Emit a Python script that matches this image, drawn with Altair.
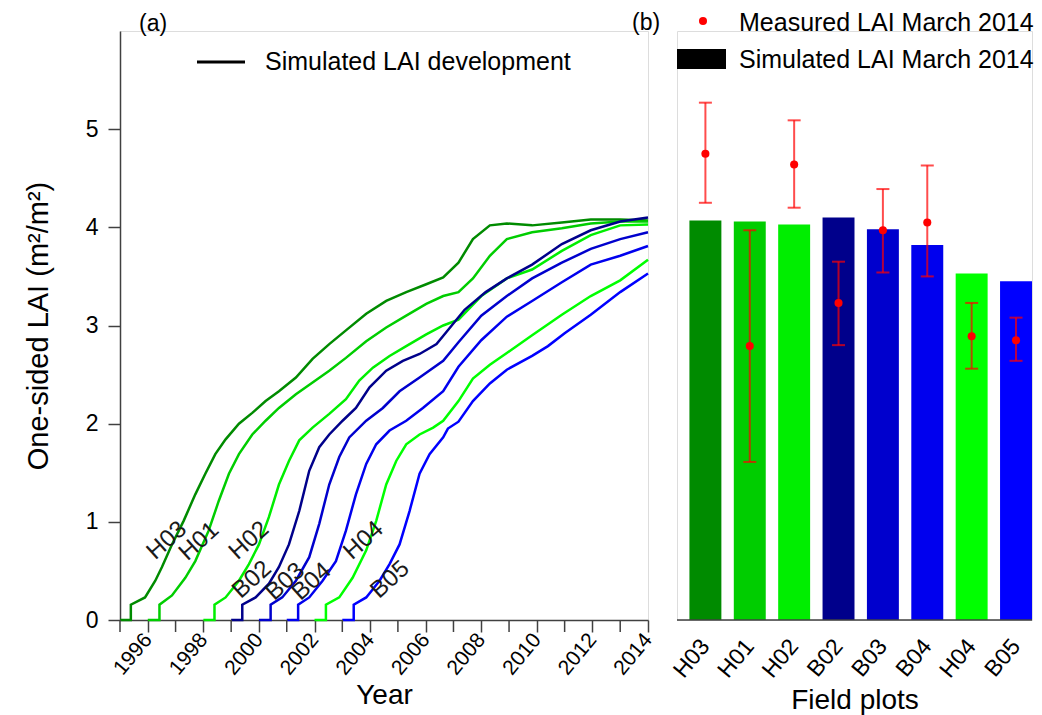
import altair as alt
import pandas as pd

FONT = "Liberation Sans"

plots = ["H03", "H01", "H02", "B02", "B03", "B04", "H04", "B05"]
colors = ["#008B00", "#00CD00", "#00EE00", "#00008B", "#0000CD", "#0000EE", "#00FF00", "#0000FF"]

# ---- panel (a): simulated LAI development ----
H03_year = [1995.0, 1995.39, 1995.39, 1995.9, 1996.27, 1996.51, 1996.87, 1997.29, 1997.71, 1998.07, 1998.43, 1998.8,
            1999.28, 1999.76, 2000.24, 2000.72, 2001.33, 2001.93, 2002.53, 2003.13, 2003.86, 2004.58, 2005.3,
            2006.02, 2006.63, 2007.18, 2007.7, 2008.31, 2008.92, 2009.83, 2010.9, 2011.94, 2013.0, 2014.0]
H03_lai = [0, 0, 0.156, 0.23, 0.40, 0.54, 0.77, 1.01, 1.28, 1.49, 1.69, 1.84,
           2.0, 2.11, 2.23, 2.33, 2.47, 2.66, 2.81, 2.95, 3.12, 3.25, 3.34,
           3.42, 3.49, 3.64, 3.88, 4.02, 4.04, 4.02, 4.05, 4.08, 4.08, 4.07]

H01_year = [1996.0, 1996.42, 1996.42, 1996.87, 1997.35, 1997.71, 1998.19, 1998.55, 1998.92, 1999.28, 1999.76,
            2000.24, 2000.72, 2001.33, 2001.93, 2002.53, 2003.13, 2003.86, 2004.58, 2005.3, 2006.02, 2006.63,
            2007.18, 2007.7, 2008.31, 2008.92, 2009.83, 2010.9, 2011.94, 2013.0, 2014.0]
H01_lai = [0, 0, 0.156, 0.25, 0.43, 0.60, 0.91, 1.21, 1.49, 1.69, 1.89,
           2.03, 2.16, 2.30, 2.42, 2.54, 2.67, 2.84, 2.98, 3.10, 3.22, 3.30,
           3.34, 3.48, 3.71, 3.88, 3.95, 3.99, 4.04, 4.06, 4.06]

H02_year = [1998.0, 1998.4, 1998.4, 1998.8, 1999.28, 1999.64, 2000.0, 2000.36, 2000.72, 2001.08, 2001.45,
            2001.93, 2002.53, 2003.13, 2003.61, 2004.1, 2004.7, 2005.3, 2006.02, 2006.63, 2007.18, 2008.0,
            2008.92, 2009.83, 2010.9, 2011.94, 2013.0, 2014.0]
H02_lai = [0, 0, 0.156, 0.23, 0.40, 0.57, 0.77, 1.05, 1.38, 1.62, 1.83,
           1.96, 2.10, 2.25, 2.44, 2.57, 2.69, 2.79, 2.91, 3.0, 3.06, 3.30,
           3.48, 3.57, 3.76, 3.92, 4.02, 4.03]

B02_year = [1999.0, 1999.4, 1999.4, 1999.88, 2000.36, 2000.72, 2001.08, 2001.45, 2001.81, 2002.17, 2002.53,
            2003.01, 2003.49, 2003.98, 2004.58, 2005.18, 2005.78, 2006.39, 2006.65, 2007.4, 2008.16, 2008.92,
            2009.83, 2010.9, 2011.94, 2013.0, 2014.0]
B02_lai = [0, 0, 0.156, 0.23, 0.37, 0.54, 0.77, 1.11, 1.52, 1.76, 1.89,
           2.03, 2.16, 2.37, 2.54, 2.64, 2.71, 2.81, 2.90, 3.16, 3.34, 3.48,
           3.62, 3.83, 3.97, 4.06, 4.10]

B03_year = [2000.0, 2000.42, 2000.42, 2000.84, 2001.33, 2001.81, 2002.17, 2002.53, 2002.89, 2003.25, 2003.86,
            2004.46, 2005.06, 2005.78, 2006.63, 2007.18, 2008.0, 2008.92, 2009.83, 2010.9, 2011.94, 2013.0, 2014.0]
B03_lai = [0, 0, 0.156, 0.23, 0.40, 0.64, 0.98, 1.38, 1.66, 1.86, 2.03,
           2.16, 2.33, 2.47, 2.64, 2.83, 3.10, 3.30, 3.48, 3.64, 3.78, 3.88, 3.95]

B04_year = [2001.0, 2001.41, 2001.41, 2001.81, 2002.29, 2002.77, 2003.13, 2003.49, 2003.86, 2004.22, 2004.7,
            2005.3, 2005.9, 2006.63, 2007.18, 2008.0, 2008.92, 2009.83, 2010.9, 2011.94, 2013.0, 2014.0]
B04_lai = [0, 0, 0.156, 0.23, 0.40, 0.60, 0.91, 1.28, 1.59, 1.79, 1.93,
           2.03, 2.16, 2.33, 2.58, 2.85, 3.09, 3.25, 3.44, 3.62, 3.71, 3.81]

H04_year = [2002.0, 2002.41, 2002.41, 2002.89, 2003.37, 2003.86, 2004.22, 2004.58, 2004.94, 2005.3, 2005.78,
            2006.27, 2006.63, 2007.18, 2007.7, 2008.31, 2008.92, 2009.83, 2010.9, 2011.94, 2013.0, 2014.0]
H04_lai = [0, 0, 0.156, 0.23, 0.43, 0.71, 1.01, 1.38, 1.62, 1.79, 1.89,
           1.96, 2.03, 2.23, 2.46, 2.60, 2.72, 2.90, 3.11, 3.30, 3.46, 3.67]

B05_year = [2003.0, 2003.41, 2003.41, 2003.86, 2004.34, 2004.7, 2005.06, 2005.42, 2005.78, 2006.14, 2006.63,
            2006.8, 2007.18, 2007.7, 2008.31, 2008.92, 2009.83, 2010.4, 2011.0, 2011.94, 2013.0, 2014.0]
B05_lai = [0, 0, 0.156, 0.23, 0.40, 0.57, 0.77, 1.11, 1.49, 1.69, 1.86,
           1.95, 2.02, 2.23, 2.41, 2.55, 2.69, 2.79, 2.92, 3.11, 3.34, 3.53]

# curve label anchors (year, LAI)
label_year = [1996.69, 1997.85, 1999.65, 1999.75, 2000.95, 2001.9, 2003.77, 2004.72]
label_lai = [0.81, 0.80, 0.81, 0.41, 0.39, 0.39, 0.81, 0.41]

# axis ticks of panel (a)
labelled_years = [1996, 1998, 2000, 2002, 2004, 2006, 2008, 2010, 2012, 2014]
minor_years = [1995, 1997, 1999, 2001, 2003, 2005, 2007, 2009, 2011, 2013]

# ---- panel (b): March 2014 ----
sim_2014 = [4.07, 4.06, 4.03, 4.10, 3.98, 3.82, 3.53, 3.45]
meas_2014 = [4.75, 2.79, 4.64, 3.23, 3.97, 4.05, 2.89, 2.85]
meas_low = [4.25, 1.61, 4.20, 2.80, 3.54, 3.50, 2.56, 2.64]
meas_high = [5.27, 3.97, 5.09, 3.65, 4.39, 4.63, 3.23, 3.08]

series = {
    "H03": (H03_year, H03_lai), "H01": (H01_year, H01_lai), "H02": (H02_year, H02_lai),
    "B02": (B02_year, B02_lai), "B03": (B03_year, B03_lai), "B04": (B04_year, B04_lai),
    "H04": (H04_year, H04_lai), "B05": (B05_year, B05_lai),
}
rows = []
for p in plots:
    ys, vs = series[p]
    for i, (yy, vv) in enumerate(zip(ys, vs)):
        rows.append({"plot": p, "year": yy, "lai": vv, "i": i})
lines_df = pd.DataFrame(rows)
labels_df = pd.DataFrame({"plot": plots, "year": label_year, "lai": label_lai})
minor_df = pd.DataFrame({"year": minor_years})
bars_df = pd.DataFrame({"plot": plots, "sim": sim_2014, "meas": meas_2014,
                        "lo": meas_low, "hi": meas_high})
one = pd.DataFrame({"k": [0]})

PH = 589  # plot height
PW_B = 355
color_scale = alt.Scale(domain=plots, range=colors)
x_year = alt.Scale(domain=[1995, 2014], nice=False, zero=False)
y_lai = alt.Scale(domain=[0, 6], nice=False)
AX = "#404040"

X_YEAR = alt.X("year:Q", scale=x_year,
               axis=alt.Axis(title="Year", values=labelled_years, format="d",
                             labelOverlap=False, labelFlush=False,
                             labelAngle=-50, labelFontSize=21, labelColor="black",
                             tickSize=12, tickColor=AX, domainColor=AX, domainWidth=1.5, tickWidth=1.5,
                             grid=False, titleFontSize=28, titleFontWeight="normal",
                             titleColor="black", titlePadding=3, labelPadding=4))
Y_LAI = alt.Y("lai:Q", scale=y_lai,
              axis=alt.Axis(title="One-sided LAI (m²/m²)", values=[0, 1, 2, 3, 4, 5], format="d",
                            labelOverlap=False,
                            labelFontSize=23, labelColor="black", tickSize=12, tickColor=AX,
                            domainColor=AX, domainWidth=1.5, tickWidth=1.5, grid=False,
                            titleFontSize=29, titleFontWeight="normal", titleColor="black",
                            titlePadding=32, labelPadding=10))

lines = alt.Chart(lines_df).mark_line(strokeWidth=2.5).encode(
    x=X_YEAR, y=Y_LAI,
    color=alt.Color("plot:N", scale=color_scale, legend=None),
    detail="plot:N",
    order="i:Q",
)

minor_ticks = alt.Chart(minor_df).mark_rule(color=AX, strokeWidth=1.5).encode(
    x=X_YEAR, y=alt.value(PH), y2=alt.value(PH + 12))

curve_labels = alt.Chart(labels_df).mark_text(angle=318, fontSize=24, font=FONT, color="#1a1a1a").encode(
    x=X_YEAR, y=Y_LAI, text="plot:N")

leg_a_line = alt.Chart(one).mark_rule(color="black", strokeWidth=3).encode(
    x=alt.value(77), x2=alt.value(125), y=alt.value(31))
leg_a_text = alt.Chart(one).mark_text(align="left", baseline="middle", fontSize=25, font=FONT).encode(
    x=alt.value(145), y=alt.value(31), text=alt.value("Simulated LAI development"))
tag_a = alt.Chart(one).mark_text(align="left", baseline="middle", fontSize=23, font=FONT).encode(
    x=alt.value(19), y=alt.value(-7), text=alt.value("(a)"))

left = alt.layer(lines, minor_ticks, curve_labels, leg_a_line, leg_a_text, tag_a).properties(
    width=528, height=PH)

XB = alt.X("plot:N", sort=plots,
           scale=alt.Scale(paddingInner=0.28, paddingOuter=0.14, align=1),
           axis=alt.Axis(title="Field plots", labelAngle=-50, labelFontSize=23, labelColor="black",
                         labelOverlap=False, ticks=False, domain=False,
                         labelPadding=22, titleFontSize=28, titleFontWeight="normal", titleColor="black",
                         titlePadding=4))


def yb(field):
    return alt.Y(field, scale=y_lai, axis=None)


bars = alt.Chart(bars_df).mark_bar().encode(
    x=XB, y=yb("sim:Q"),
    color=alt.Color("plot:N", scale=color_scale, legend=None))
base_line = alt.Chart(one).mark_rule(color=AX, strokeWidth=1.5).encode(
    x=alt.value(0), x2=alt.value(PW_B), y=alt.value(PH))
err = alt.Chart(bars_df).mark_rule(color="red", opacity=0.7, strokeWidth=2).encode(
    x=XB, y=yb("lo:Q"), y2="hi:Q")
cap_lo = alt.Chart(bars_df).mark_tick(color="red", opacity=0.7, thickness=2, size=13).encode(
    x=XB, y=yb("lo:Q"))
cap_hi = alt.Chart(bars_df).mark_tick(color="red", opacity=0.7, thickness=2, size=13).encode(
    x=XB, y=yb("hi:Q"))
pts = alt.Chart(bars_df).mark_point(filled=True, color="red", size=65, opacity=1).encode(
    x=XB, y=yb("meas:Q"))

leg_dot = alt.Chart(one).mark_point(filled=True, color="red", size=65, opacity=1).encode(
    x=alt.value(26), y=alt.value(-10))
leg_dot_t = alt.Chart(one).mark_text(align="left", baseline="middle", fontSize=25, font=FONT).encode(
    x=alt.value(62), y=alt.value(-8), text=alt.value("Measured LAI March 2014"))
leg_rect = alt.Chart(one).mark_rect(color="black").encode(
    x=alt.value(0), x2=alt.value(49), y=alt.value(18), y2=alt.value(38))
leg_rect_t = alt.Chart(one).mark_text(align="left", baseline="middle", fontSize=25, font=FONT).encode(
    x=alt.value(62), y=alt.value(29), text=alt.value("Simulated LAI March 2014"))
tag_b = alt.Chart(one).mark_text(align="left", baseline="middle", fontSize=23, font=FONT).encode(
    x=alt.value(-45), y=alt.value(-8), text=alt.value("(b)"))

right = alt.layer(bars, base_line, err, cap_lo, cap_hi, pts, leg_dot, leg_dot_t, leg_rect, leg_rect_t,
                  tag_b).properties(width=PW_B, height=PH)

chart = alt.hconcat(left, right, spacing=29, bounds="flush").configure_view(stroke=None, strokeWidth=0).configure(
    font=FONT, padding={"left": 23, "top": 10, "right": 0, "bottom": 0}, background="white")

chart.save("out.html", embed_options={"renderer": "svg", "actions": False})
